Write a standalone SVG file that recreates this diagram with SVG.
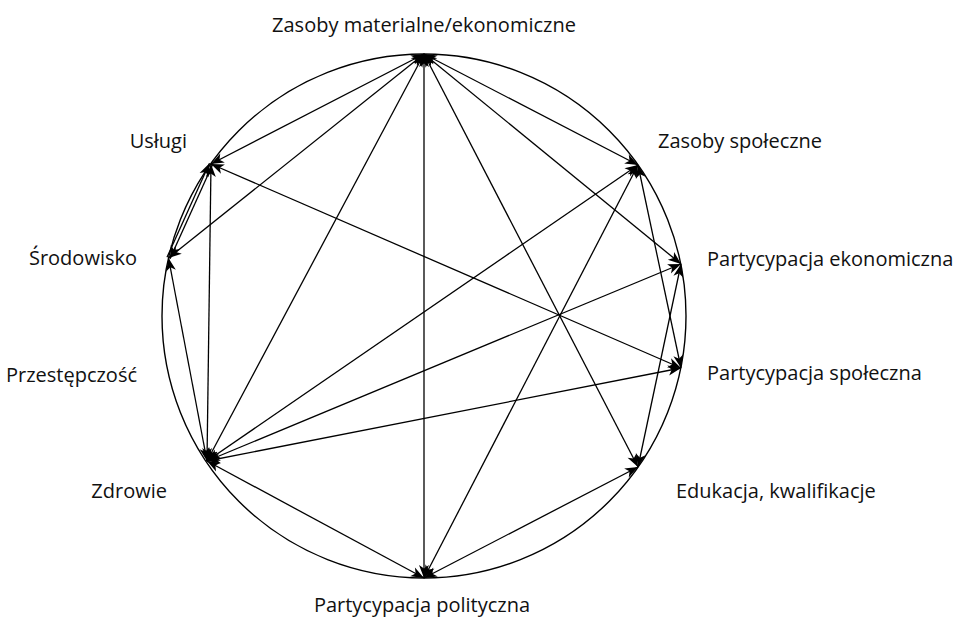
<svg xmlns="http://www.w3.org/2000/svg" width="955" height="619" viewBox="0 0 955 619">
  <style>
    .lbl { font-family: "Open Sans", "Noto Sans", "Liberation Sans", sans-serif; font-size: 20px; fill: #111; }
    .end { text-anchor: end; }
    .mid { text-anchor: middle; }
    .ring { fill: none; stroke: #000; stroke-width: 1.4; }
    .edge line { stroke: #000; stroke-width: 1.3; }
    .both { marker-start: url(#head); marker-end: url(#head); }
    .one { marker-end: url(#head); }
  </style>
  <defs>
    <marker id="head" viewBox="-14 -6 15 12" refX="0" refY="0" markerWidth="15" markerHeight="12" markerUnits="userSpaceOnUse" orient="auto-start-reverse">
      <path d="M0,0 L-13,-5 L-9.5,0 L-13,5 Z" fill="#000"/>
    </marker>
  </defs>

  <rect width="955" height="619" fill="#fff"/>

  <!-- outer ring on which all domains sit -->
  <circle class="ring" cx="424" cy="316" r="262"/>

  <g id="connectors" class="edge">
    <!-- from Zasoby materialne/ekonomiczne -->
    <line class="both" x1="424" y1="54" x2="211" y2="164"/>
    <line class="both" x1="424" y1="54" x2="168.5" y2="258"/>
    <line class="both" x1="424" y1="54" x2="207" y2="461"/>
    <line class="both" x1="424" y1="54" x2="424" y2="578"/>
    <line class="both" x1="424" y1="54" x2="638" y2="467"/>
    <line class="both" x1="424" y1="54" x2="681" y2="264"/>
    <line class="both" x1="424" y1="54" x2="638" y2="165"/>
    <!-- from Zdrowie -->
    <line class="both" x1="207" y1="461" x2="211" y2="164"/>
    <line class="both" x1="207" y1="461" x2="168.5" y2="258"/>
    <line class="both" x1="207" y1="461" x2="638" y2="165"/>
    <line class="both" x1="207" y1="461" x2="681" y2="264"/>
    <line class="both" x1="207" y1="461" x2="681" y2="368"/>
    <line class="both" x1="207" y1="461" x2="424" y2="578"/>
    <!-- remaining links -->
    <line class="both" x1="211" y1="164" x2="681" y2="368"/>
    <line class="both" x1="638" y1="165" x2="681" y2="368"/>
    <line class="both" x1="424" y1="578" x2="638" y2="165"/>
    <line class="both" x1="424" y1="578" x2="638" y2="467"/>
    <line class="both" x1="681" y1="264" x2="638" y2="467"/>
    <!-- Środowisko and Usługi: one arrow each way -->
    <line class="one" x1="167" y1="257.3" x2="209.5" y2="163.3"/>
    <line class="one" x1="212.5" y1="164.7" x2="170" y2="258.7"/>
  </g>

  <g id="n-zasoby-materialne"><text class="lbl mid" x="424" y="32">Zasoby materialne/ekonomiczne</text></g>
  <g id="n-zasoby-spoleczne"><text class="lbl" x="658" y="148">Zasoby społeczne</text></g>
  <g id="n-partycypacja-ekonomiczna"><text class="lbl" x="707" y="266">Partycypacja ekonomiczna</text></g>
  <g id="n-partycypacja-spoleczna"><text class="lbl" x="707" y="380">Partycypacja społeczna</text></g>
  <g id="n-edukacja"><text class="lbl" x="676" y="498">Edukacja, kwalifikacje</text></g>
  <g id="n-partycypacja-polityczna"><text class="lbl mid" x="422" y="612">Partycypacja polityczna</text></g>
  <g id="n-zdrowie"><text class="lbl end" x="167" y="498">Zdrowie</text></g>
  <g id="n-przestepczosc"><text class="lbl end" x="137" y="382">Przestępczość</text></g>
  <g id="n-srodowisko"><text class="lbl end" x="137" y="265">Środowisko</text></g>
  <g id="n-uslugi"><text class="lbl end" x="187" y="148">Usługi</text></g>
</svg>
